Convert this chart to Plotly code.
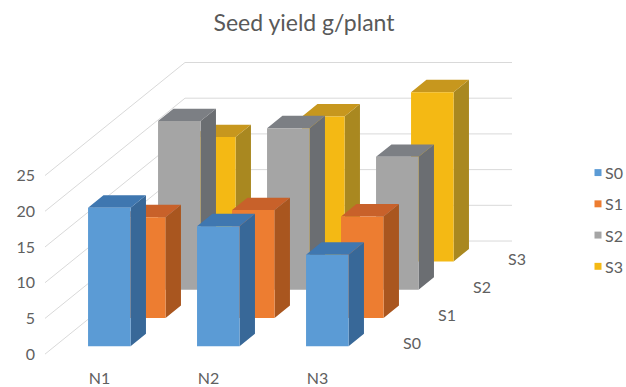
import plotly.graph_objects as go

# ---------------- data ----------------
categories = ["N1", "N2", "N3"]
series = ["S0", "S1", "S2", "S3"]
s0 = [19.4, 16.8, 12.8]
s1 = [14.1, 15.1, 14.2]
s2 = [23.6, 22.6, 18.6]
s3 = [17.4, 20.3, 23.7]
values = [s0, s1, s2, s3]
value_ticks = [0, 5, 10, 15, 20, 25]
title_text = "Seed yield g/plant"

# ---------------- styling / projection constants ----------------
W, H = 626, 387
ML, MB = 36, 17
PX_CAT = 109.0          # pixels per category slot
PX_VAL = 7.2            # pixels per value unit
ROW_DX_PX, ROW_DY_PX = 35.0, 28.5   # oblique offset per series row
ORIGIN_PX = (45.0, 357.0)           # front-left floor corner
DX = ROW_DX_PX / PX_CAT
DY = ROW_DY_PX / PX_VAL
BW = 0.39                # bar width (fraction of slot)
DF, DB = 0.28, 0.72      # bar front / back depth inside a row
NROWS = len(series)
NCAT = len(categories)

front_cols = ["#5B9BD5", "#ED7D31", "#A5A5A5", "#F4B914"]
top_cols = ["#3F77B0", "#C8612A", "#7C7F84", "#C7971E"]
side_cols = ["#386898", "#A9561F", "#6B6E72", "#A98820"]
FONT = "Lato"
TXT = "#606060"
GRID = "#D9D9D9"


def proj(c, depth, v):
    return c + depth * DX, v + depth * DY


def poly(pts):
    xs, ys = [], []
    for c, d, v in pts:
        x, y = proj(c, d, v)
        xs.append(x)
        ys.append(y)
    xs.append(xs[0]); ys.append(ys[0])
    return xs, ys


fig = go.Figure()

# gridlines: left wall diagonals + back wall horizontals
gx, gy = [], []
for v in value_ticks:
    for c, d in [(0, 0), (0, NROWS), (NCAT, NROWS)]:
        x, y = proj(c, d, v)
        gx.append(x); gy.append(y)
    gx.append(None); gy.append(None)
fig.add_trace(go.Scatter(x=gx, y=gy, mode="lines", line=dict(color=GRID, width=1),
                         hoverinfo="skip", showlegend=False))

# bars, back rows first
for r in range(NROWS - 1, -1, -1):
    faces = {"front": ([], []), "top": ([], []), "side": ([], [])}
    for i, v in enumerate(values[r]):
        xl = i + (1 - BW) / 2
        xr = xl + BW
        df, db = r + DF, r + DB
        f = poly([(xl, df, 0), (xr, df, 0), (xr, df, v), (xl, df, v)])
        t = poly([(xl, df, v), (xr, df, v), (xr, db, v), (xl, db, v)])
        s = poly([(xr, df, 0), (xr, db, 0), (xr, db, v), (xr, df, v)])
        for key, p in (("front", f), ("top", t), ("side", s)):
            faces[key][0].extend(p[0] + [None])
            faces[key][1].extend(p[1] + [None])
    for key, col in (("side", side_cols[r]), ("top", top_cols[r]), ("front", front_cols[r])):
        fig.add_trace(go.Scatter(x=faces[key][0], y=faces[key][1], mode="lines",
                                 fill="toself", fillcolor=col, line=dict(width=0, color=col),
                                 hoverinfo="skip", showlegend=False))

# series (depth) axis labels
annotations = []
for r, name in enumerate(series):
    x, y = proj(NCAT, r + 0.5, 0)
    annotations.append(dict(x=x, y=y, xref="x", yref="y", text=name, showarrow=False,
                            xanchor="center", yanchor="middle", xshift=22, yshift=-3,
                            font=dict(family=FONT, size=16, color=TXT)))

# legend (manual, Excel-style compact)
PW, PH = W - ML, H - MB


def px2paper(px, py):
    return (px - ML) / PW, (PH - py) / PH


shapes = []
for k, name in enumerate(series):
    cy = 174 + 31.5 * k
    x0, y0 = px2paper(594.5, cy + 3.5)
    x1, y1 = px2paper(601.5, cy - 3.5)
    shapes.append(dict(type="rect", xref="paper", yref="paper", x0=x0, y0=y0, x1=x1, y1=y1,
                       fillcolor=front_cols[k], line=dict(width=0)))
    tx, ty = px2paper(603, cy)
    annotations.append(dict(x=tx, y=ty, xref="paper", yref="paper", text=name, showarrow=False,
                            xanchor="left", yanchor="middle",
                            font=dict(family=FONT, size=16, color=TXT)))

x0r = -(ORIGIN_PX[0] - ML) / PX_CAT
x1r = x0r + PW / PX_CAT
y1r = ORIGIN_PX[1] / PX_VAL
y0r = y1r - PH / PX_VAL

fig.update_layout(
    width=W, height=H,
    margin=dict(l=ML, r=0, t=0, b=MB),
    paper_bgcolor="white", plot_bgcolor="white",
    showlegend=False,
    title=dict(text=title_text, xref="container", yref="container", x=304 / W, y=1 - 23 / H,
               xanchor="center", yanchor="middle",
               font=dict(family=FONT, size=23, color="#595959")),
    xaxis=dict(range=[x0r, x1r], showgrid=False, zeroline=False, showline=False,
               tickmode="array", tickvals=[i + 0.5 for i in range(NCAT)], ticktext=categories,
               ticks="", tickfont=dict(family=FONT, size=16, color=TXT), fixedrange=True),
    yaxis=dict(range=[y0r, y1r], showgrid=False, zeroline=False, showline=False,
               tickmode="array", tickvals=value_ticks, ticktext=[str(v) for v in value_ticks],
               ticks="", tickfont=dict(family=FONT, size=16, color=TXT), fixedrange=True),
    shapes=shapes,
    annotations=annotations,
)

fig.write_html("out.html")
